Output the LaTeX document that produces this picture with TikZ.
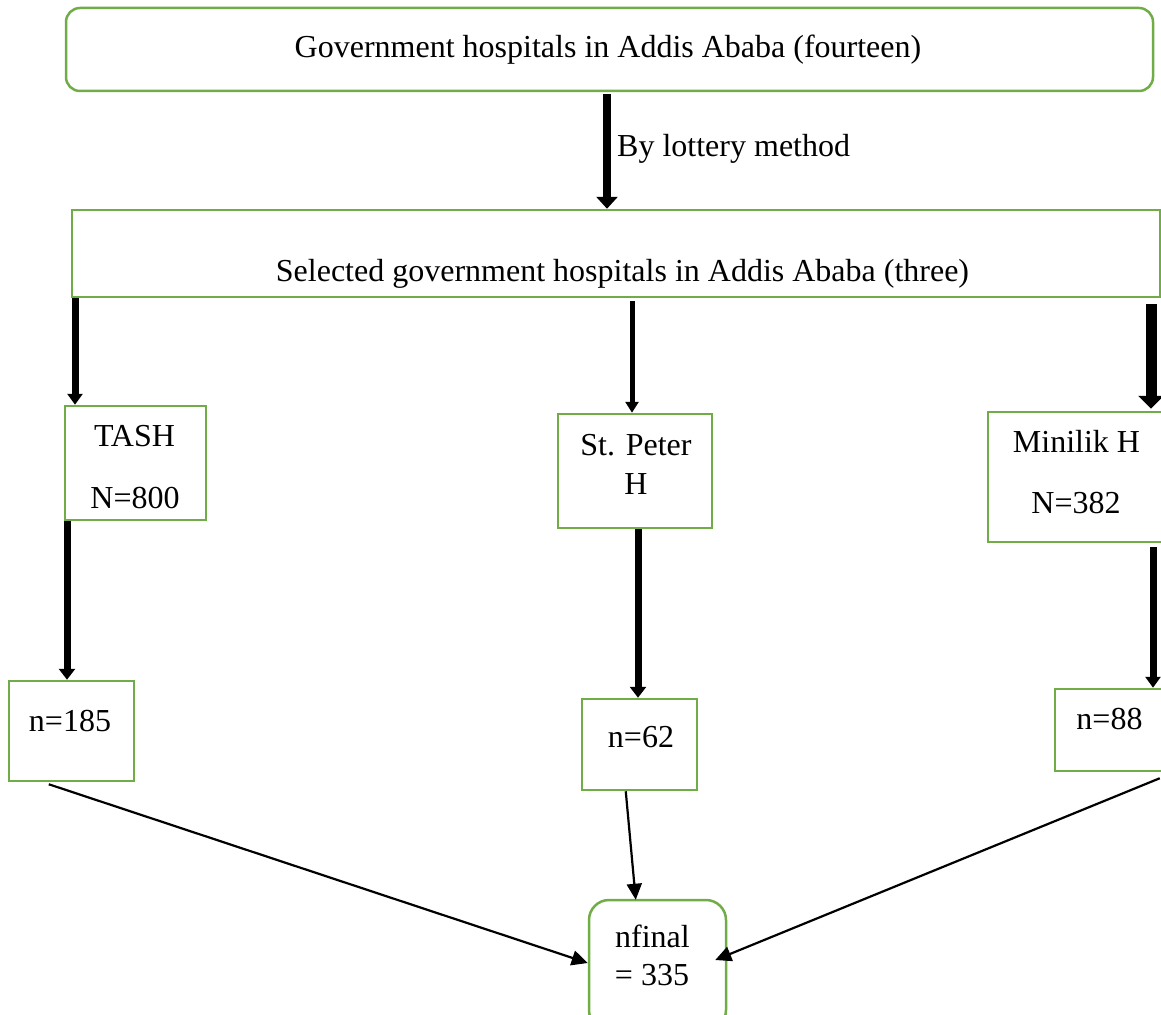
\documentclass[tikz,border=0pt]{standalone}
\usepackage{fontspec}
\setmainfont{Liberation Serif}
\usetikzlibrary{arrows.meta,calc}
\definecolor{grn}{HTML}{70AD47}
\begin{document}
\begin{tikzpicture}[x=1pt,y=-1pt,
  box/.style={draw=grn,line width=2.5pt,inner sep=0pt,rectangle},
  txt/.style={inner sep=0pt,anchor=base,font=\fontsize{32}{36}\selectfont},
  thick arrow/.style args={#1/#2/#3}{line width=#1pt,-{Triangle[width=#2pt,length=#3pt]}},
  thin arrow/.style={line width=2.2pt,-{Triangle[width=15pt,length=16pt]}}]
\useasboundingbox (0,0) rectangle (1161,1014);
\clip (0,0) rectangle (1161,1014);
% boxes
\node[box,rounded corners=14pt,minimum width=1087pt,minimum height=83pt] (top) at (609.5,49.5) {};
\node[box,minimum width=1088pt,minimum height=87pt] (sel) at (616,253.5) {};
\node[box,minimum width=141pt,minimum height=114pt] (tash) at (135.5,463) {};
\node[box,minimum width=154pt,minimum height=114pt] (peter) at (635,471) {};
\node[box,minimum width=187pt,minimum height=130pt] (minilik) at (1081.5,477) {};
\node[box,minimum width=125pt,minimum height=100pt] (n185) at (71.5,731) {};
\node[box,minimum width=115pt,minimum height=91pt] (n62) at (639.5,744.5) {};
\node[box,minimum width=110pt,minimum height=82pt] (n88) at (1110,730) {};
\node[box,rounded corners=20pt,minimum width=137pt,minimum height=130pt] (nfinal) at (657.5,965) {};
% texts
\node[txt] (ttop) at (608,58) {Government hospitals in Addis Ababa (fourteen)};
\node[txt,anchor=base west] (tlot) at (617,156) {By lottery method};
\node[txt] (tsel) at (622.5,281) {Selected government hospitals in Addis Ababa (three)};
\node[txt] (ttash1) at (134.5,446) {TASH};
\node[txt] (ttash2) at (135,508) {N=800};
\node[txt] (tpet1) at (636,455) {St. Peter};
\node[txt] (tpet2) at (636,494) {H};
\node[txt] (tmin1) at (1076.5,452) {Minilik H};
\node[txt] (tmin2) at (1076,513) {N=382};
\node[txt] (t185) at (70,731) {n=185};
\node[txt] (t62) at (641,747) {n=62};
\node[txt] (t88) at (1109.5,729) {n=88};
\node[txt] (tfin1) at (652.5,947) {nfinal};
\node[txt] (tfin2) at (652,985) {= 335};
% x positions of the vertical connectors
\coordinate (xa) at (607,0);
\coordinate (xb) at (75,0);
\coordinate (xc) at (632,0);
\coordinate (xd) at (1151,0);
\coordinate (xe) at (67,0);
\coordinate (xf) at (638,0);
\coordinate (xg) at (1153,0);
% vertical connectors
\draw[thick arrow=8/21/12] ($(top.south -| xa)+(0,2)$) -- (sel.north -| xa);
\draw[thick arrow=7/15/11] (sel.south -| xb) -- (tash.north -| xb);
\draw[thick arrow=5/13/11] ($(sel.south -| xc)+(0,3)$) -- (peter.north -| xc);
\draw[thick arrow=11/25/13] ($(sel.south -| xd)+(0,6)$) -- ($(minilik.north -| xd)+(0,-2)$);
\draw[thick arrow=7/16/11] (tash.south -| xe) -- (n185.north -| xe);
\draw[thick arrow=7/16/11] (peter.south -| xf) -- (n62.north -| xf);
\draw[thick arrow=7/15/11] ($(minilik.south -| xg)+(0,4)$) -- (n88.north -| xg);
% converging connectors
\draw[thin arrow] ($(n185.south west)+(41,2)$) -- ($(nfinal.west)+(0,-2)$);
\draw[thin arrow] ($(n62.south west)+(45,0)$) -- ($(nfinal.north west)+(48,1)$);
\draw[thin arrow] ($(n88.south west)+(106,6)$) -- ($(nfinal.east)+(-12,-5)$);
\end{tikzpicture}
\end{document}
